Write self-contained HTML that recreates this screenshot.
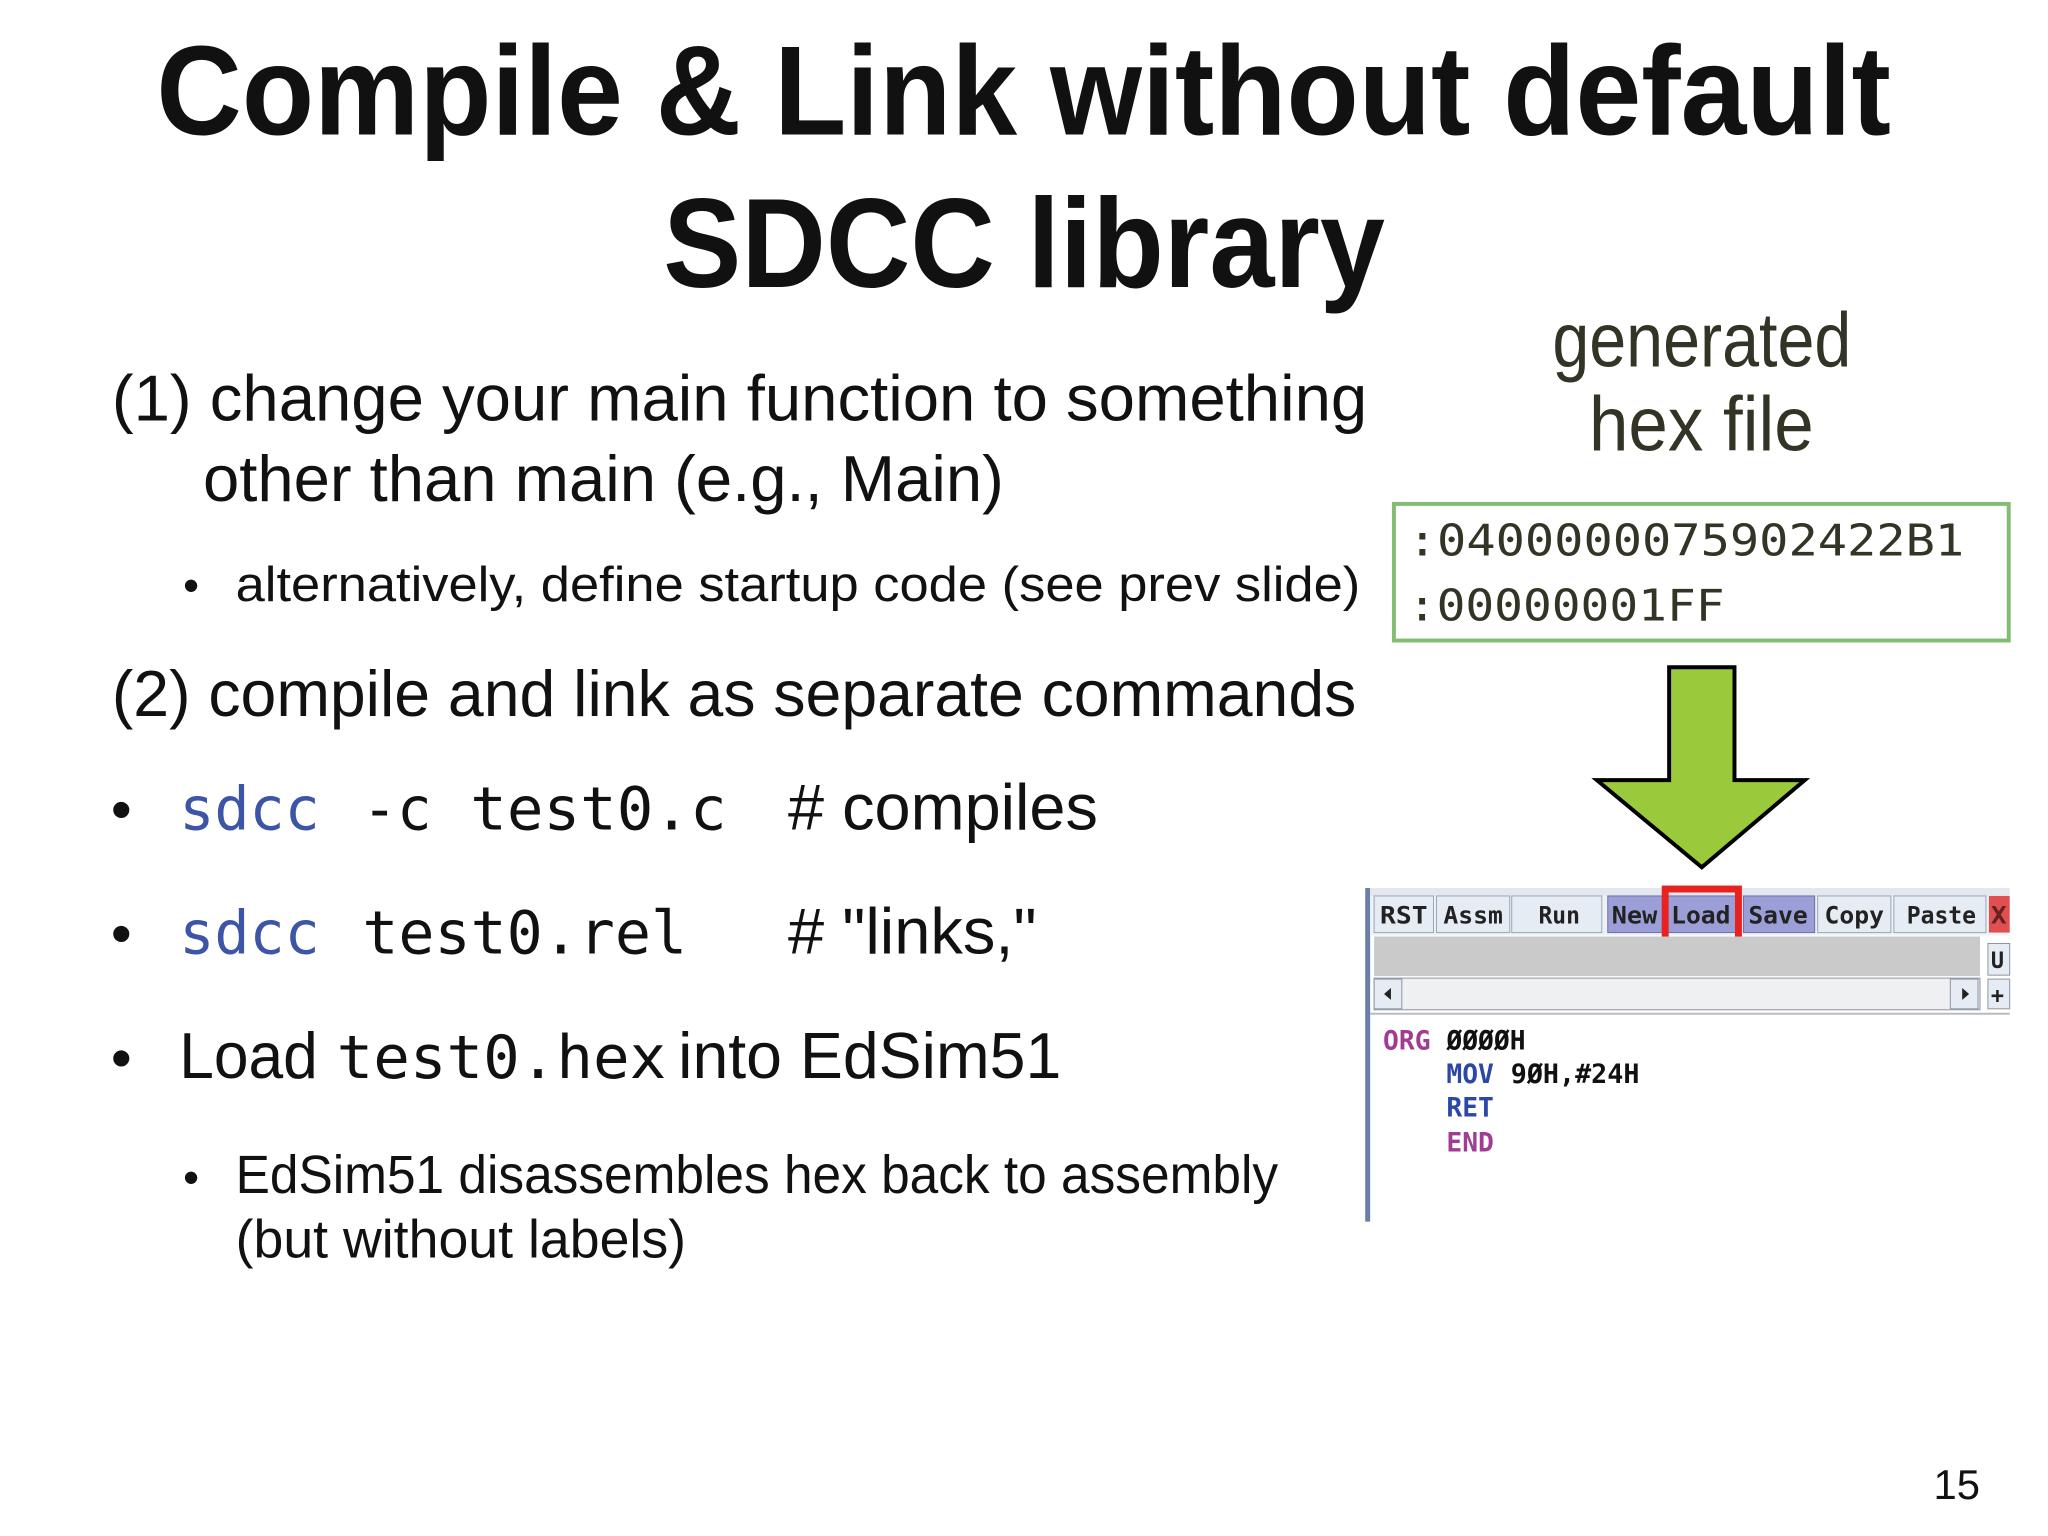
<!DOCTYPE html>
<html><head><meta charset="utf-8"><style>
html,body{margin:0;padding:0;background:#fff;}
svg{display:block;}
.s{font-family:"Liberation Sans",sans-serif;}
.m{font-family:"DejaVu Sans Mono","Liberation Mono",monospace;}
</style></head><body>
<svg width="2048" height="1536" viewBox="0 0 2048 1536" xmlns="http://www.w3.org/2000/svg">
<rect width="2048" height="1536" fill="#fff"/>
<g transform="scale(0.99)">
<g class="s" fill="#111">
<text x="158" y="136" font-size="128" font-weight="bold" textLength="1752" lengthAdjust="spacingAndGlyphs">Compile &amp; Link without default</text>
<text x="670" y="290" font-size="128" font-weight="bold" textLength="729" lengthAdjust="spacingAndGlyphs">SDCC library</text>
<text x="113" y="425" font-size="66" textLength="1268" lengthAdjust="spacingAndGlyphs">(1) change your main function to something</text>
<text x="205" y="506" font-size="66" textLength="809" lengthAdjust="spacingAndGlyphs">other than main (e.g., Main)</text>
<text x="185" y="607" font-size="46">•</text>
<text x="238" y="607" font-size="50" textLength="1136" lengthAdjust="spacingAndGlyphs">alternatively, define startup code (see prev slide)</text>
<text x="113" y="723" font-size="66" textLength="1257" lengthAdjust="spacingAndGlyphs">(2) compile and link as separate commands</text>
<text x="112" y="838" font-size="60">•</text>
<text x="112" y="963" font-size="60">•</text>
<text x="112" y="1089" font-size="60">•</text>
<text x="796" y="838" font-size="66" textLength="313" lengthAdjust="spacingAndGlyphs"># compiles</text>
<text x="796" y="963" font-size="66" textLength="251" lengthAdjust="spacingAndGlyphs"># "links,"</text>
<text x="181" y="1089" font-size="66" textLength="140" lengthAdjust="spacingAndGlyphs">Load</text>
<text x="685" y="1089" font-size="66" textLength="387" lengthAdjust="spacingAndGlyphs">into EdSim51</text>
<text x="185" y="1205" font-size="46">•</text>
<text x="238" y="1205" font-size="54" textLength="1053" lengthAdjust="spacingAndGlyphs">EdSim51 disassembles hex back to assembly</text>
<text x="238" y="1270" font-size="54" textLength="455" lengthAdjust="spacingAndGlyphs">(but without labels)</text>
<text x="1953" y="1514" font-size="42" textLength="47" lengthAdjust="spacingAndGlyphs">15</text>
</g>
<g class="m" font-size="60">
<text x="181" y="838" fill="#3d55a6" textLength="142" lengthAdjust="spacingAndGlyphs">sdcc</text>
<text x="366" y="838" fill="#111" textLength="70" lengthAdjust="spacingAndGlyphs">-c</text>
<text x="475" y="838" fill="#111" textLength="259" lengthAdjust="spacingAndGlyphs">test0.c</text>
<text x="181" y="963" fill="#3d55a6" textLength="142" lengthAdjust="spacingAndGlyphs">sdcc</text>
<text x="366" y="963" fill="#111" textLength="328" lengthAdjust="spacingAndGlyphs">test0.rel</text>
<text x="340" y="1089" fill="#111" textLength="333" lengthAdjust="spacingAndGlyphs">test0.hex</text>
</g>
<g class="s" fill="#333326">
<text x="1568" y="370" font-size="78" textLength="302" lengthAdjust="spacingAndGlyphs">generated</text>
<text x="1605" y="455" font-size="78" textLength="227" lengthAdjust="spacingAndGlyphs">hex file</text>
</g>
<rect x="1408" y="509" width="621" height="138" fill="#fff" stroke="#82bd72" stroke-width="4"/>
<g class="m" font-size="44" fill="#333326">
<text x="1422" y="561" textLength="562" lengthAdjust="spacingAndGlyphs">:0400000075902422B1</text>
<text x="1422" y="627" textLength="320" lengthAdjust="spacingAndGlyphs">:00000001FF</text>
</g>
<polygon points="1686,674 1752,674 1752,788 1823,788 1719,876 1613,788 1686,788" fill="#9aca3c" stroke="#000" stroke-width="4" stroke-linejoin="miter"/>
<rect x="1379" y="897" width="651" height="337" fill="#fff"/>
<rect x="1379" y="897" width="5" height="337" fill="#6a7fa8"/>
<rect x="1384" y="897" width="646" height="8" fill="#e4e8ee"/>
<rect x="1384" y="905" width="646" height="40" fill="#eef1f5"/>
<g font-family="DejaVu Sans Mono,monospace" font-weight="bold" font-size="24">
<rect x="1388" y="905" width="60" height="37" fill="#e6ecf3" stroke="#9aa6b6"/>
<text x="1394" y="933" fill="#222" textLength="48" lengthAdjust="spacingAndGlyphs">RST</text>
<rect x="1451" y="905" width="74" height="37" fill="#e6ecf3" stroke="#9aa6b6"/>
<text x="1458" y="933" fill="#222" textLength="60" lengthAdjust="spacingAndGlyphs">Assm</text>
<rect x="1527" y="905" width="91" height="37" fill="#e6ecf3" stroke="#9aa6b6"/>
<text x="1554" y="933" fill="#222" textLength="42" lengthAdjust="spacingAndGlyphs">Run</text>
<rect x="1624" y="905" width="56" height="37" fill="#9c9ed8" stroke="#6d6fa8"/>
<text x="1628" y="933" fill="#222" textLength="46" lengthAdjust="spacingAndGlyphs">New</text>
<rect x="1680" y="905" width="78" height="37" fill="#9c9ed8" stroke="#6d6fa8"/>
<text x="1688" y="933" fill="#222" textLength="60" lengthAdjust="spacingAndGlyphs">Load</text>
<rect x="1761" y="905" width="72" height="37" fill="#9c9ed8" stroke="#6d6fa8"/>
<text x="1766" y="933" fill="#222" textLength="60" lengthAdjust="spacingAndGlyphs">Save</text>
<rect x="1836" y="905" width="74" height="37" fill="#e6ecf3" stroke="#9aa6b6"/>
<text x="1843" y="933" fill="#222" textLength="60" lengthAdjust="spacingAndGlyphs">Copy</text>
<rect x="1913" y="905" width="93" height="37" fill="#e6ecf3" stroke="#9aa6b6"/>
<text x="1926" y="933" fill="#222" textLength="70" lengthAdjust="spacingAndGlyphs">Paste</text>
<rect x="2009" y="905" width="21" height="37" fill="#e05050"/>
<text x="2011" y="933" fill="#622" textLength="16" lengthAdjust="spacingAndGlyphs">X</text>
</g>
<rect x="1682" y="898" width="74" height="60" fill="none" stroke="#e8231f" stroke-width="7"/>
<rect x="1388" y="946" width="612" height="40" fill="#cacaca"/>
<rect x="1388" y="988" width="612" height="32" fill="#eef0f2" stroke="#8c94a0"/>
<rect x="1388" y="989" width="28" height="30" fill="#e6ecf3" stroke="#8c94a0"/>
<polygon points="1398,1004 1405,998 1405,1010" fill="#222"/>
<rect x="1970" y="989" width="28" height="30" fill="#e6ecf3" stroke="#8c94a0"/>
<polygon points="1989,1004 1982,998 1982,1010" fill="#222"/>
<rect x="2008" y="953" width="22" height="32" fill="#e6ecf3" stroke="#8c94a0"/>
<text x="2011" y="978" font-family="DejaVu Sans Mono,monospace" font-weight="bold" font-size="22" fill="#222">U</text>
<rect x="2008" y="989" width="22" height="30" fill="#e6ecf3" stroke="#8c94a0"/>
<text x="2011" y="1013" font-family="DejaVu Sans Mono,monospace" font-weight="bold" font-size="22" fill="#222">+</text>
<line x1="1384" y1="1024" x2="2030" y2="1024" stroke="#bbb" stroke-width="2"/>
<g font-family="DejaVu Sans Mono,monospace" font-weight="bold" font-size="27">
<text x="1397" y="1060" fill="#a03c94" textLength="48" lengthAdjust="spacingAndGlyphs">ORG</text>
<text x="1461" y="1060" fill="#111" textLength="80" lengthAdjust="spacingAndGlyphs">ØØØØH</text>
<text x="1461" y="1094" fill="#2c47a6" textLength="48" lengthAdjust="spacingAndGlyphs">MOV</text>
<text x="1526" y="1094" fill="#111" textLength="130" lengthAdjust="spacingAndGlyphs">9ØH,#24H</text>
<text x="1461" y="1128" fill="#2c47a6" textLength="48" lengthAdjust="spacingAndGlyphs">RET</text>
<text x="1461" y="1163" fill="#a03c94" textLength="48" lengthAdjust="spacingAndGlyphs">END</text>
</g>
</g>
</svg>
</body></html>
